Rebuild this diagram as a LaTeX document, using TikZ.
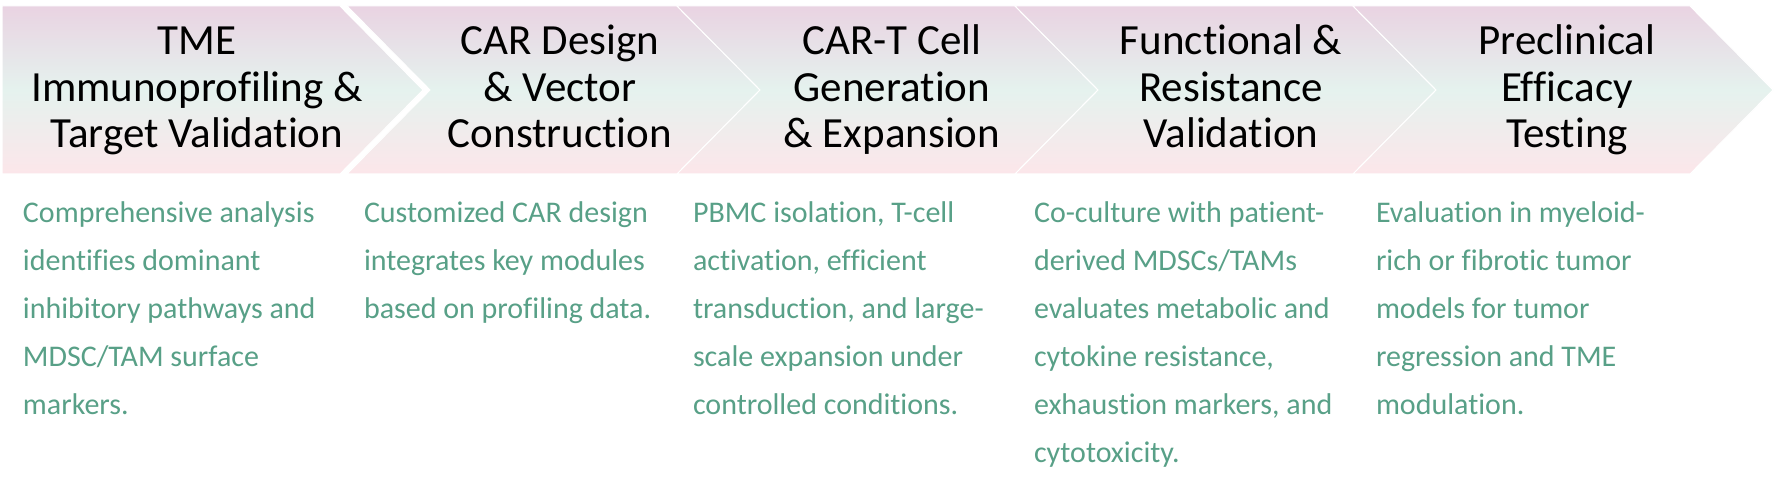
\documentclass[tikz,border=0pt]{standalone}
\usepackage{fontspec}
\setmainfont{Carlito}[Ligatures=CommonOff]
\definecolor{chevtop}{RGB}{233,211,226}
\definecolor{chevmid}{RGB}{229,242,238}
\definecolor{chevbot}{RGB}{252,230,234}
\definecolor{descgreen}{RGB}{88,160,135}

\begin{document}
\begin{tikzpicture}[% styles used in image code
x=1pt, y=-1pt,
chev/.style = {top color=chevtop, bottom color=chevbot,
               middle color=chevmid, draw=white, line width=1pt},
steptitle/.style = {align=center, inner sep=0pt, outer sep=0pt,
                    anchor=base, font=\fontsize{43}{46.5}\selectfont},
stepdesc/.style = {align=left, inner sep=0pt, outer sep=0pt,
                   anchor=base west, text=descgreen,
                   font=\fontsize{30}{48}\selectfont}
                    ]
	% page
	\fill[white] (0,0) rectangle (1776,489);
	\useasboundingbox (0,0) rectangle (1776,489);

	% chevrons
	\shade[chev] (2,6) -- (340,6) -- (423,90) -- (340,174) -- (2,174) -- cycle;
	\foreach \l/\r in {347/677, 677/1015, 1015/1353, 1353/1690}
	  \shade[chev] (\l,6) -- (\r,6) -- (\r+83,90) -- (\r,174)
	               -- (\l,174) -- (\l+83,90) -- cycle;

	% step titles (anchored at the baseline of the last line)
	\node[steptitle] (title1) at (197,148) {TME\\Immunoprofiling \&\\Target Validation};
	\node[steptitle] (title2) at (560,148) {CAR Design\\\& Vector\\Construction};
	\node[steptitle] (title3) at (892,148) {CAR-T Cell\\Generation\\\& Expansion};
	\node[steptitle] (title4) at (1231,148) {Functional \&\\Resistance\\Validation};
	\node[steptitle] (title5) at (1567,148) {Preclinical\\Efficacy\\Testing};

	% step descriptions (first line at y=222, 48 per line)
	\node[stepdesc] (desc1) at (23,414) {Comprehensive analysis\\identifies dominant\\inhibitory pathways and\\MDSC/TAM surface\\markers.};
	\node[stepdesc] (desc2) at (364,318) {Customized CAR design\\integrates key modules\\based on profiling data.};
	\node[stepdesc] (desc3) at (693,414) {PBMC isolation, T-cell\\activation, efficient\\transduction, and large-\\scale expansion under\\controlled conditions.};
	\node[stepdesc] (desc4) at (1034,462) {Co-culture with patient-\\derived MDSCs/TAMs\\evaluates metabolic and\\cytokine resistance,\\exhaustion markers, and\\cytotoxicity.};
	\node[stepdesc] (desc5) at (1376,414) {Evaluation in myeloid-\\rich or fibrotic tumor\\models for tumor\\regression and TME\\modulation.};
\end{tikzpicture}
\end{document}
